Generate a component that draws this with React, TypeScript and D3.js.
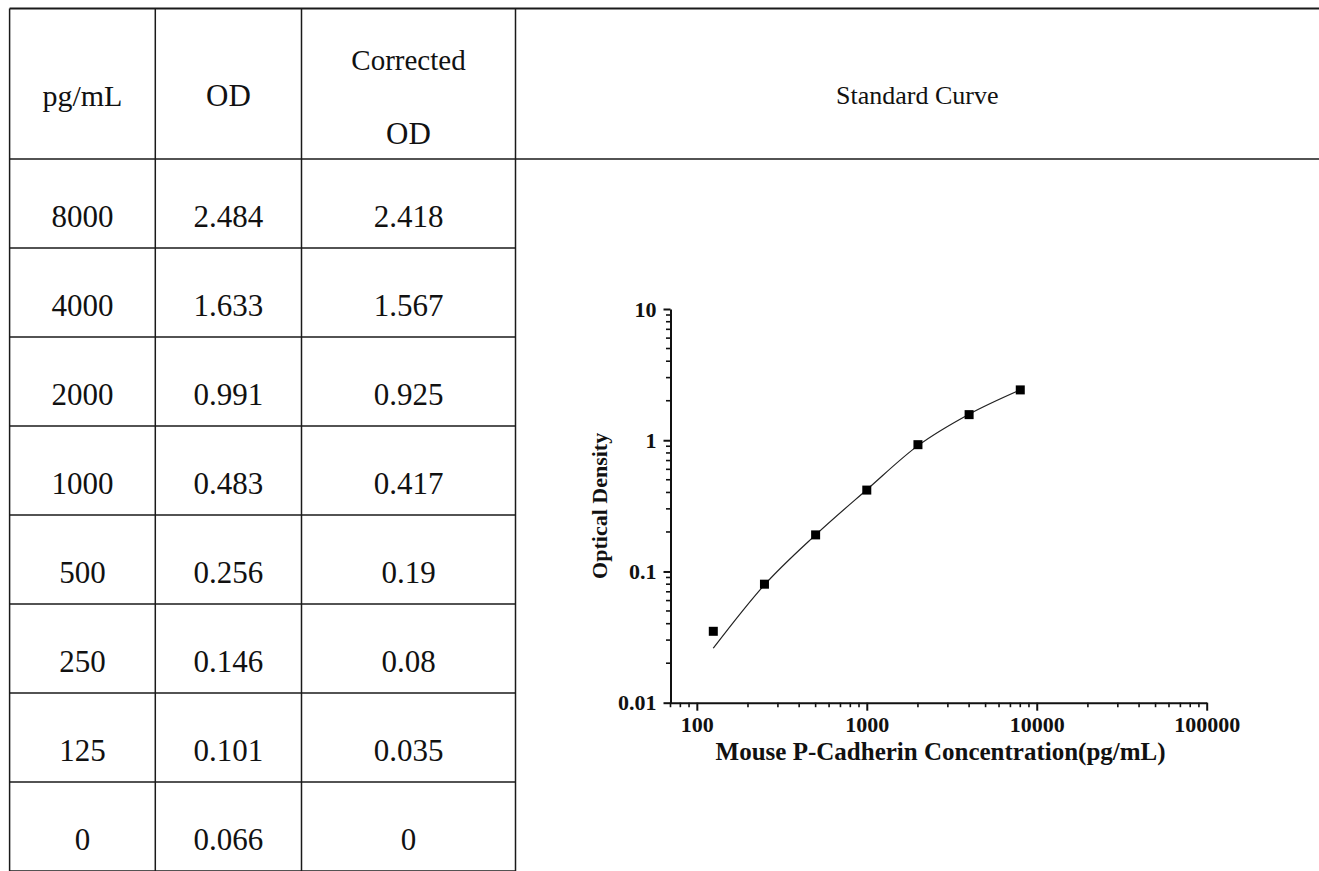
import { useEffect, useRef } from 'react'
import * as d3 from 'd3'

// ── Data ────────────────────────────────────────────────────────────────────
const CONCENTRATIONS = [8000, 4000, 2000, 1000, 500, 250, 125, 0]
const OD = ['2.484', '1.633', '0.991', '0.483', '0.256', '0.146', '0.101', '0.066']
const CORRECTED_OD = ['2.418', '1.567', '0.925', '0.417', '0.19', '0.08', '0.035', '0']
// fitted curve at each standard (125..8000)
const FIT_CONC = [125, 250, 500, 1000, 2000, 4000, 8000]
const FIT_OD = [0.026, 0.079, 0.19, 0.42, 0.91, 1.58, 2.42]
const X_TICKS = [100, 1000, 10000, 100000]
const Y_TICKS = [0.01, 0.1, 1, 10]
const X_DOMAIN = [70, 100000]
const Y_DOMAIN = [0.01, 10]

const W = 1319
const H = 871
const SERIF = "'Liberation Serif', 'Times New Roman', serif"

// table layout
const COL_X = [9.6, 155.3, 301.5, 515.5]
const TOP = 8.5
const HEADER_BOTTOM = 159
const ROW_H = 89

// plot frame
const PLOT = { left: 670.5, right: 1206.7, top: 309, bottom: 702.7 }

export default function App() {
  const svgRef = useRef<SVGSVGElement>(null)

  useEffect(() => {
    const svg = d3.select(svgRef.current)
    svg.selectAll('*').remove()

    // ── Table grid ────────────────────────────────────────────────────────────
    const grid = svg.append('g').attr('stroke', '#1a1a1a').attr('stroke-width', 1.5)
    grid.append('line').attr('x1', COL_X[0]).attr('x2', W).attr('y1', TOP).attr('y2', TOP).attr('stroke-width', 2.2)
    grid.append('line').attr('x1', COL_X[0]).attr('x2', W).attr('y1', HEADER_BOTTOM).attr('y2', HEADER_BOTTOM)
    COL_X.forEach(cx => {
      grid.append('line').attr('x1', cx).attr('x2', cx).attr('y1', TOP).attr('y2', H)
    })
    CONCENTRATIONS.forEach((_, i) => {
      const yy = HEADER_BOTTOM + (i + 1) * ROW_H
      grid.append('line').attr('x1', COL_X[0]).attr('x2', COL_X[3]).attr('y1', yy).attr('y2', yy)
    })

    const colMid = (i: number) => (COL_X[i] + COL_X[i + 1]) / 2
    const txt = (x: number, y: number, s: string, size: number) =>
      svg.append('text')
        .attr('x', x).attr('y', y)
        .attr('text-anchor', 'middle')
        .attr('font-family', SERIF).attr('font-size', size).attr('fill', '#111')
        .text(s)

    // header
    txt(colMid(0), 106, 'pg/mL', 30)
    txt(colMid(1), 106, 'OD', 31)
    txt(colMid(2), 69.5, 'Corrected', 29)
    txt(colMid(2), 143.5, 'OD', 31)
    txt((COL_X[3] + W) / 2, 104, 'Standard Curve', 26)

    // rows
    CONCENTRATIONS.forEach((c, i) => {
      const base = HEADER_BOTTOM + i * ROW_H + 67.5
      txt(colMid(0), base, String(c), 31)
      txt(colMid(1), base, OD[i], 31)
      txt(colMid(2), base, CORRECTED_OD[i], 31)
    })

    // ── Scales ────────────────────────────────────────────────────────────────
    const x = d3.scaleLog().domain(X_DOMAIN).range([PLOT.left, PLOT.right])
    const y = d3.scaleLog().domain(Y_DOMAIN).range([PLOT.bottom, PLOT.top])

    // ── Axes ──────────────────────────────────────────────────────────────────
    const styleAxis = (ag: d3.Selection<SVGGElement, unknown, null, undefined>) => {
      ag.select('.domain').attr('stroke', '#111').attr('stroke-width', 2)
      ag.selectAll('.tick line').attr('stroke', '#111').attr('stroke-width', 2)
      ag.selectAll('.tick text')
        .attr('fill', '#111').attr('font-family', SERIF)
        .attr('font-size', 22).attr('font-weight', 'bold')
    }

    svg.append('g')
      .attr('transform', `translate(0,${PLOT.bottom})`)
      .call(d3.axisBottom(x).tickValues(X_TICKS).tickSize(8).tickSizeOuter(0).tickPadding(6)
        .tickFormat(d => String(d)))
      .call(styleAxis)

    svg.append('g')
      .attr('transform', `translate(${PLOT.left},0)`)
      .call(d3.axisLeft(y).tickValues(Y_TICKS).tickSize(7).tickSizeOuter(0).tickPadding(7)
        .tickFormat(d => String(d)))
      .call(styleAxis)

    // minor ticks
    const minor = svg.append('g').attr('stroke', '#111').attr('stroke-width', 1.6)
    x.ticks().filter(t => !X_TICKS.includes(t)).forEach(t => {
      minor.append('line').attr('x1', x(t)).attr('x2', x(t))
        .attr('y1', PLOT.bottom).attr('y2', PLOT.bottom + 4.5)
    })
    y.ticks().filter(t => !Y_TICKS.some(m => Math.abs(m - t) < 1e-9)).forEach(t => {
      minor.append('line').attr('y1', y(t)).attr('y2', y(t))
        .attr('x1', PLOT.left).attr('x2', PLOT.left - 4.5)
    })

    // axis titles
    svg.append('text')
      .attr('x', (PLOT.left + PLOT.right) / 2 + 2).attr('y', 760)
      .attr('text-anchor', 'middle')
      .attr('font-family', SERIF).attr('font-size', 25).attr('font-weight', 'bold').attr('fill', '#111')
      .text('Mouse P-Cadherin Concentration(pg/mL)')

    svg.append('text')
      .attr('transform', `translate(607,${(PLOT.top + PLOT.bottom) / 2}) rotate(-90)`)
      .attr('text-anchor', 'middle')
      .attr('font-family', SERIF).attr('font-size', 22).attr('font-weight', 'bold').attr('fill', '#111')
      .text('Optical Density')

    // ── Fitted curve ──────────────────────────────────────────────────────────
    const fit = FIT_CONC.map((c, i) => [c, FIT_OD[i]] as [number, number])
    const line = d3.line<[number, number]>()
      .x(d => x(d[0]))
      .y(d => y(d[1]))
      .curve(d3.curveMonotoneX)
    svg.append('path')
      .datum(fit)
      .attr('d', line)
      .attr('fill', 'none').attr('stroke', '#222').attr('stroke-width', 1.2)

    // ── Standard points ───────────────────────────────────────────────────────
    const S = 9
    CONCENTRATIONS.forEach((c, i) => {
      const v = +CORRECTED_OD[i]
      if (c <= 0 || v <= 0) return
      svg.append('rect')
        .attr('x', x(c) - S / 2).attr('y', y(v) - S / 2)
        .attr('width', S).attr('height', S)
        .attr('fill', '#000')
    })
  }, [])

  return (
    <div style={{ position: 'absolute', left: 0, top: 0, width: W, height: H, background: '#fff' }}>
      <svg ref={svgRef} width={W} height={H} style={{ display: 'block' }} />
    </div>
  )
}
